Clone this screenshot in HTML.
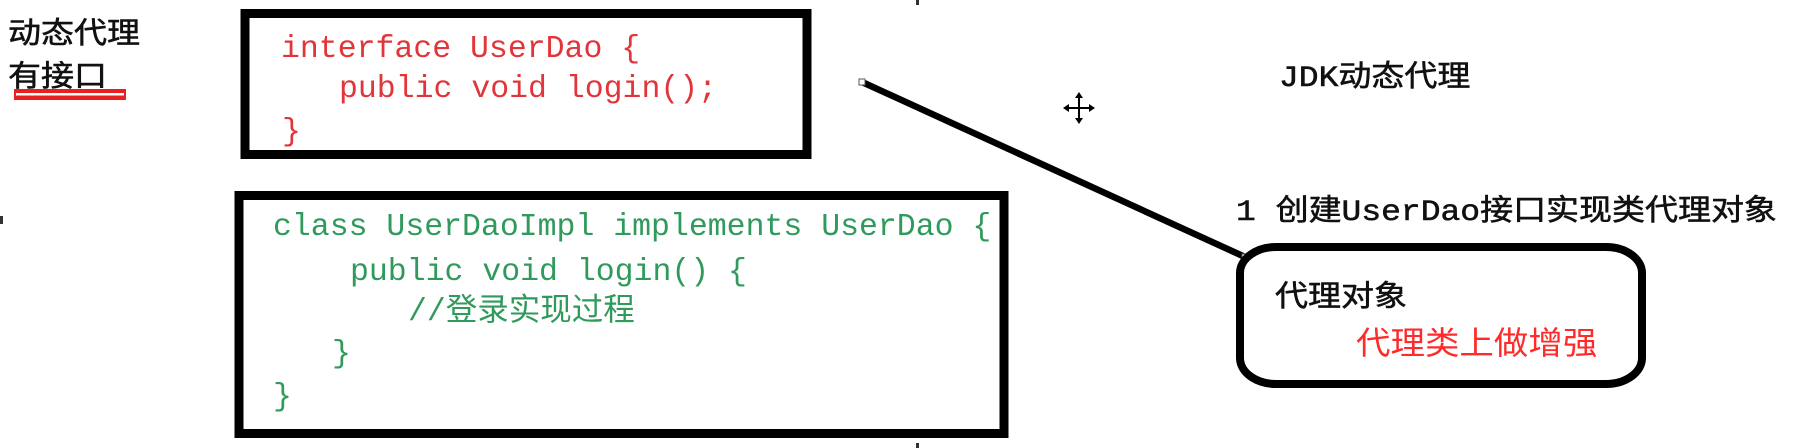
<!DOCTYPE html>
<html><head><meta charset="utf-8"><style>
html,body{margin:0;padding:0;background:#fff;width:1806px;height:448px;overflow:hidden}
svg{display:block}
.cj{font-family:"Liberation Mono","Noto Sans CJK SC",monospace;font-size:33px;fill:#111;stroke:#111;stroke-width:0.6}
.code{font-family:"Liberation Mono","Noto Sans CJK SC",monospace;font-size:31.5px}
.r{fill:#e0353a}.g{fill:#2f9a5c}
</style></head><body>
<svg width="1806" height="448" viewBox="0 0 1806 448" xmlns="http://www.w3.org/2000/svg">
<rect x="0" y="0" width="1806" height="448" fill="#fff"/>
<text class="cj" transform="translate(8,43) scale(1,0.9)">动态代理</text>
<text class="cj" transform="translate(8,86) scale(1,0.9)">有接口</text>
<rect x="14" y="89" width="112" height="11" fill="#e82020"/>
<rect x="16" y="93" width="108" height="2.5" fill="#fff"/>
<rect x="245" y="13.5" width="562" height="141" fill="none" stroke="#000" stroke-width="9"/>
<text class="code r" x="281" y="57">interface UserDao {</text>
<text class="code r" x="339" y="97">public void login();</text>
<text class="code r" x="282" y="140">}</text>
<rect x="239" y="195.5" width="765" height="238" fill="none" stroke="#000" stroke-width="9"/>
<text class="code g" x="273" y="235">class UserDaoImpl implements UserDao {</text>
<text class="code g" x="350" y="280">public void login() {</text>
<text class="code g" x="408" y="320">//登录实现过程</text>
<text class="code g" x="332" y="362">}</text>
<text class="code g" x="273" y="405">}</text>
<line x1="862" y1="82" x2="1245" y2="257" stroke="#000" stroke-width="6.5"/>
<rect x="859" y="79" width="6" height="6" fill="#fff" stroke="#555" stroke-width="1"/>
<rect x="1242" y="254" width="6" height="6" fill="#fff" stroke="#555" stroke-width="1"/>
<g stroke="#000" stroke-width="2" fill="#000">
<line x1="1079" y1="94" x2="1079" y2="122"/>
<line x1="1065" y1="108" x2="1093" y2="108"/>
<polygon points="1079,92 1075,98 1083,98" stroke="none"/>
<polygon points="1079,124 1075,118 1083,118" stroke="none"/>
<polygon points="1063,108 1069,104 1069,112" stroke="none"/>
<polygon points="1095,108 1089,104 1089,112" stroke="none"/>
</g>
<text class="cj" transform="translate(1279,86) scale(1,0.9)">JDK动态代理</text>
<text class="cj" transform="translate(1236,220) scale(1,0.9)">1 创建UserDao接口实现类代理对象</text>
<rect x="1240" y="247" width="402" height="137" rx="36" ry="26" fill="none" stroke="#000" stroke-width="8"/>
<text class="cj" transform="translate(1275,306) scale(1,0.9)">代理对象</text>
<text class="cj" style="fill:#ff2a2a;stroke:none;font-size:34.5px" transform="translate(1356,354) scale(1,0.92)">代理类上做增强</text>
<rect x="0" y="216" width="3" height="8" fill="#333"/>
<rect x="916" y="0" width="3" height="5" fill="#333"/>
<rect x="916" y="443" width="3" height="5" fill="#333"/>
</svg>
</body></html>
